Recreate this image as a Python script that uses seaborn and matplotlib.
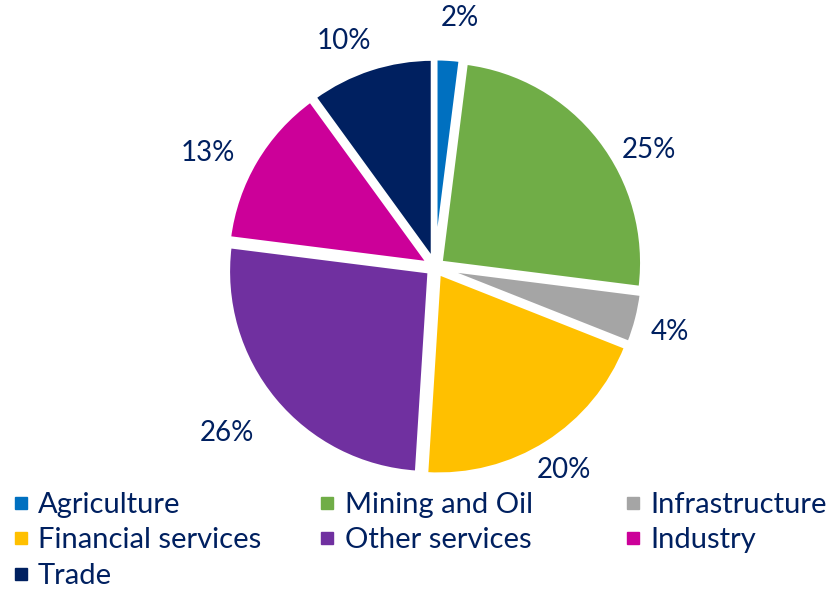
import matplotlib
matplotlib.use("Agg")
import numpy as np
import matplotlib.pyplot as plt
from matplotlib.lines import Line2D
import seaborn as sns

sectors = ["Agriculture", "Mining and Oil", "Infrastructure", "Financial services",
           "Other services", "Industry", "Trade"]
shares = [2, 25, 4, 20, 26, 13, 10]
colors = ["#0070C0", "#70AD47", "#A5A5A5", "#FFC000", "#7030A0", "#CC0099", "#002060"]

# label placement around the pie: radial distance and angular nudge (degrees)
label_dist = [1.24, 1.21, 1.21, 1.19, 1.32, 1.26, 1.21]
label_nudge = [-2, -9, -1, 0, -1, 4, 4]

sns.set_theme(style="white")
plt.rcParams["font.family"] = ["Lato", "DejaVu Sans"]
text_color = "#002060"

fig = plt.figure(figsize=(8.35, 5.9), dpi=100)
ax = fig.add_axes([175 / 835, 63 / 590, 520 / 835, 520 / 590])

wedges, texts = ax.pie(
    shares,
    colors=colors,
    startangle=90,
    counterclock=False,
    explode=[0.035] * len(shares),
    labels=[f"{v}%" for v in shares],
    labeldistance=1.2,
    wedgeprops=dict(edgecolor="white", linewidth=3),
    textprops=dict(color=text_color, fontsize=20),
)
for w, t, d, n in zip(wedges, texts, label_dist, label_nudge):
    ang = np.deg2rad((w.theta1 + w.theta2) / 2 + n)
    t.set_position((d * np.cos(ang), d * np.sin(ang)))
    t.set_horizontalalignment("center")
    t.set_verticalalignment("center")
ax.set_xlim(-1.29, 1.29)
ax.set_ylim(-1.29, 1.29)
ax.set_aspect("equal")
ax.axis("off")

# legend laid out row by row in three evenly spaced columns
columns = [[0, 3, 6], [1, 4], [2, 5]]
column_x = [0.0172, 0.3843, 0.7502]
for idx, x0 in zip(columns, column_x):
    handles = [Line2D([], [], marker="s", linestyle="none", markersize=8.6,
                      markerfacecolor=colors[i], markeredgecolor=colors[i]) for i in idx]
    leg = fig.legend(
        handles, [sectors[i] for i in idx], ncol=1, loc="upper left",
        bbox_to_anchor=(x0, 0.166), frameon=False,
        fontsize=21, handlelength=0.45, handletextpad=0.36,
        labelspacing=0.32, borderpad=0, borderaxespad=0,
    )
    for t in leg.get_texts():
        t.set_color(text_color)

fig.savefig("out.png", dpi=100, facecolor="white")
